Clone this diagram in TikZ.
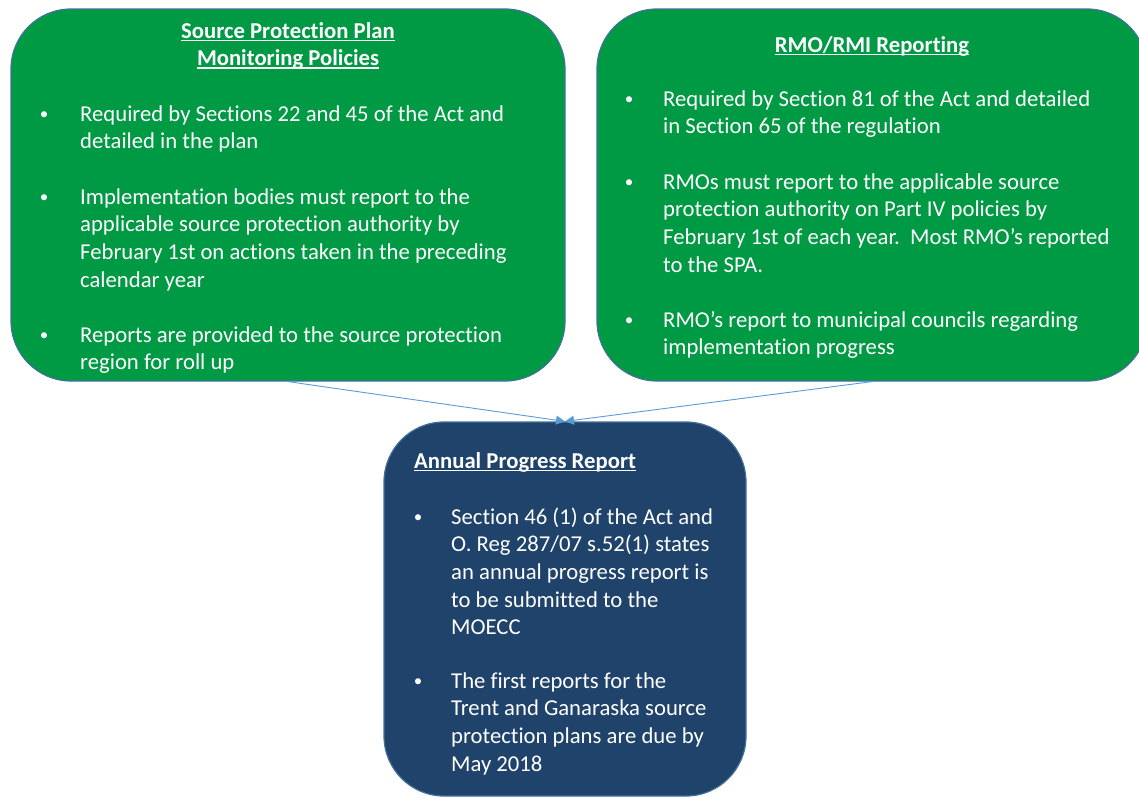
\documentclass[tikz,border=0pt]{standalone}
\usepackage{fontspec}
\setmainfont{Carlito}[Ligatures=NoCommon]
\usetikzlibrary{arrows.meta}

\definecolor{boxgreen}{RGB}{0,153,68}
\definecolor{boxnavy}{RGB}{31,67,106}
\definecolor{boxedge}{RGB}{65,113,156}
\definecolor{linkblue}{RGB}{91,155,213}

% bold heading with an underline at a fixed depth
\newcommand\hdline[1]{\leavevmode\setbox0=\hbox{\bfseries #1}\rlap{\rule[-3pt]{\wd0}{1.4pt}}\box0}
% block of lines whose reference point is the first baseline
\newcommand\txtlines[1]{\parbox[t]{600pt}{\raggedright #1}}

\tikzset{
  panel/.style={draw=boxedge, line width=1.2pt, rounded corners=60pt, rectangle, inner sep=0pt},
  greenpanel/.style={panel, fill=boxgreen},
  navypanel/.style={panel, fill=boxnavy},
  txt/.style={text=white, inner sep=0pt, anchor=base west},
  dot/.style={text=white, inner sep=0pt, anchor=base, yshift=1.8pt, font=\fontsize{17}{20}\selectfont},
  link/.style={draw=linkblue, line width=0.9pt, -{Triangle[length=9pt,width=9pt]}},
}

\begin{document}
\begin{tikzpicture}[x=1pt, y=-1pt, font=\fontsize{22.7}{27.7}\selectfont]
\useasboundingbox (0,0) rectangle (1139,798);

% panels
\node[greenpanel, minimum width=554pt, minimum height=372pt] (spp) at (288,195) {};
\node[greenpanel, minimum width=550pt, minimum height=372pt] (rmo) at (872,195) {};
\node[navypanel, minimum width=362pt, minimum height=374pt] (apr) at (565,609) {};

% connectors
\draw[link] (spp.south) -- (apr.north);
\draw[link] (rmo.south) -- (apr.north);

% Source Protection Plan panel
\node[text=white, inner sep=0pt, anchor=base] (sppHead) at (288,38)
  {\parbox[t]{440pt}{\centering \hdline{Source Protection Plan}\\\hdline{Monitoring Policies}}};
\node[dot] (sppB1) at (44,121) {•};
\node[txt] (sppT1) at (80,121) {\txtlines{Required by Sections 22 and 45 of the Act and\\detailed in the plan}};
\node[dot] (sppB2) at (44,204) {•};
\node[txt] (sppT2) at (80,204) {\txtlines{Implementation bodies must report to the\\applicable source protection authority by\\February 1st on actions taken in the preceding\\calendar year}};
\node[dot] (sppB3) at (44,342) {•};
\node[txt] (sppT3) at (80,342) {\txtlines{Reports are provided to the source protection\\region for roll up}};

% RMO/RMI panel
\node[text=white, inner sep=0pt, anchor=base] (rmoHead) at (872,52) {\hdline{RMO/RMI Reporting}};
\node[dot] (rmoB1) at (629,106) {•};
\node[txt] (rmoT1) at (663,106) {\txtlines{Required by Section 81 of the Act and detailed\\in Section 65 of the regulation}};
\node[dot] (rmoB2) at (629,189) {•};
\node[txt] (rmoT2) at (663,189) {\txtlines{RMOs must report to the applicable source\\protection authority on Part IV policies by\\February 1st of each year.\ \ Most RMO’s reported\\to the SPA.}};
\node[dot] (rmoB3) at (629,327) {•};
\node[txt] (rmoT3) at (663,327) {\txtlines{RMO’s report to municipal councils regarding\\implementation progress}};

% Annual Progress Report panel
\node[txt] (aprHead) at (414,468) {\hdline{Annual Progress Report}};
\node[dot] (aprB1) at (418,524) {•};
\node[txt] (aprT1) at (451,524) {\txtlines{Section 46 (1) of the Act and\\O. Reg 287/07 s.52(1) states\\an annual progress report is\\to be submitted to the\\MOECC}};
\node[dot] (aprB2) at (418,688) {•};
\node[txt] (aprT2) at (451,688) {\txtlines{The first reports for the\\Trent and Ganaraska source\\protection plans are due by\\May 2018}};
\end{tikzpicture}
\end{document}
